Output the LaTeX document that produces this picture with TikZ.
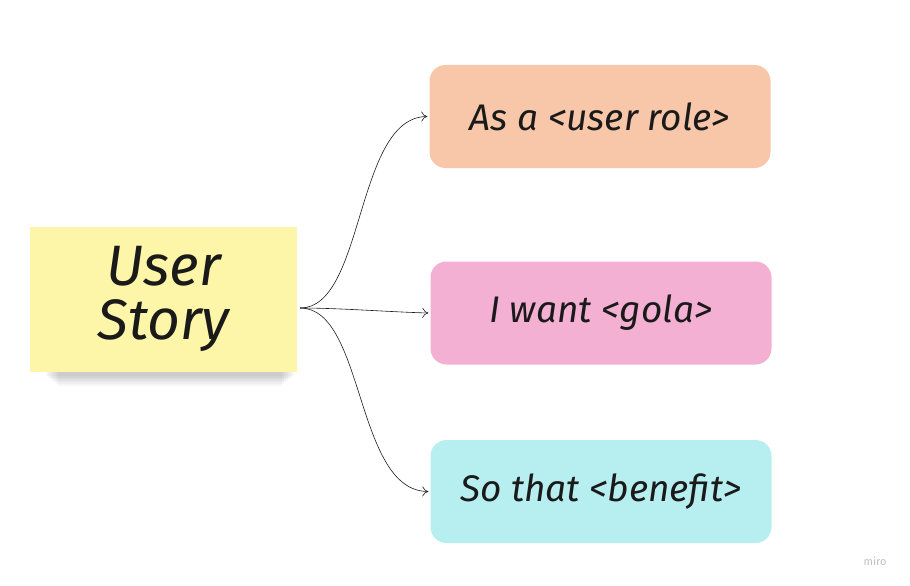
\documentclass[tikz,border=0pt]{standalone}
\usepackage{fontspec}
\setmainfont{Fira Sans}
\usepackage{tikz}
\usetikzlibrary{arrows.meta, positioning}
\definecolor{stickyyellow}{HTML}{FDF6A8}
\definecolor{rolepeach}{HTML}{F8C6A8}
\definecolor{goalpink}{HTML}{F3B0D3}
\definecolor{benefitcyan}{HTML}{B7EEF0}
\definecolor{inkblack}{HTML}{1A1A1A}

\begin{document}
\begin{tikzpicture}[
    x=1pt, y=-1pt,
    part/.style={rectangle, rounded corners=16pt, fill=#1, minimum width=341pt, minimum height=103pt, font=\fontsize{37}{40}\selectfont\itshape, text=inkblack},
    link/.style={-{To[length=6pt, width=10pt]}, semithick, color=inkblack}
]
\useasboundingbox (0,0) rectangle (910,586);

% shadow under the sticky note
\foreach \k in {0,...,6}
  \fill[black, opacity=0.03] (46+2*\k,362) rectangle (294-2*\k,376+1.6*\k);

\node[rectangle, fill=stickyyellow, minimum width=267pt, minimum height=145pt, font=\fontsize{57}{60}\selectfont\itshape, text=inkblack, align=center, inner sep=0pt] (story) at (163.5,299) {User\\[-6pt]Story};

\node[part=rolepeach] (role) at (600,116.5) {As a <user role>};
\node[part=goalpink] (goal) at (601,313) {I want <gola>};
\node[part=benefitcyan] (benefit) at (601,491.5) {So that <benefit>};

\coordinate (fork) at ([xshift=3pt, yshift=-9pt]story.east);

\draw[link] (fork) .. controls (365,308) and (355,117) .. ([xshift=-2pt]role.west);
\draw[link] (fork) .. controls (340,308) and (390,312) .. ([xshift=-2pt]goal.west);
\draw[link] (fork) .. controls (365,308) and (355,491) .. ([xshift=-2pt]benefit.west);

% watermark
\node[font=\fontsize{11}{12}\selectfont, text=black!25] (mark) at (875,561) {miro};

\end{tikzpicture}
\end{document}
